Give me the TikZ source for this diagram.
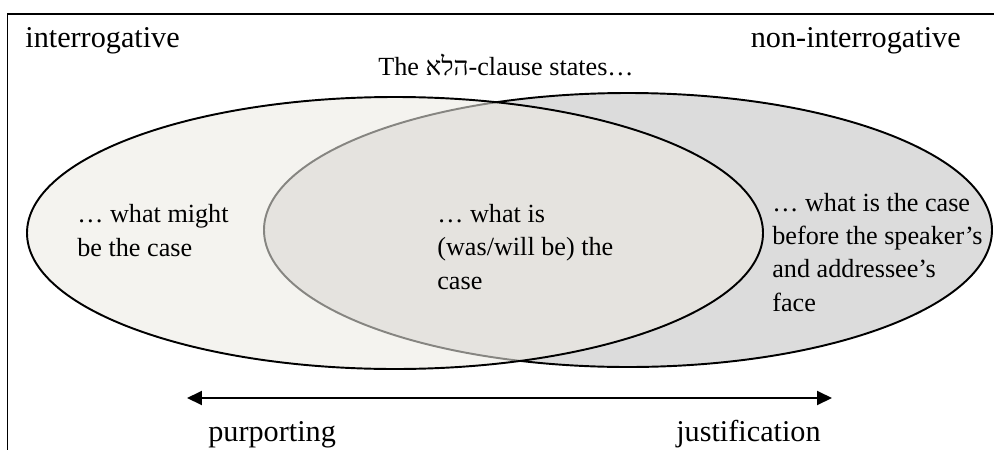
\documentclass[tikz,border=0pt]{standalone}
\usepackage{fontspec}
\setmainfont{Liberation Serif}
\newfontfamily\hebfont[Script=Hebrew]{Liberation Serif}
\TeXXeTstate=1
\usetikzlibrary{arrows.meta}
\definecolor{frame}{HTML}{000000}
\definecolor{leftfill}{RGB}{236,234,227}
\definecolor{rightfill}{HTML}{DCDCDC}
\tikzset{
  base/.style={draw=frame, line width=1.1pt},
  setl/.style={base, fill=leftfill, fill opacity=0.57},
  setr/.style={base, fill=rightfill},
  lab/.style={inner sep=0pt, font=\fontsize{17.2}{19.1}\selectfont, align=left},
  labs/.style={lab, font=\fontsize{14.9}{18.8}\selectfont},
  span/.style={base, {Triangle[length=0.3cm,width=0.28cm]}-{Triangle[length=0.3cm,width=0.28cm]}},
}

\begin{document}
\begin{tikzpicture}[x=0.02cm, y=-0.02cm]
  \useasboundingbox (0,0) rectangle (994,450);
  \coordinate (tr) at (994,14);
  \coordinate (tl) at (7.5,14);
  \coordinate (bl) at (7.5,450);
  \draw[base] (tr) -- (tl) -- (bl);
  % the two sets
  \draw[setr] (628,230) ellipse (364 and 137);
  \draw[setl] (395,233) ellipse (368 and 136);
  % headings
  \node[lab, anchor=base west] (inter) at (25,47) {interrogative};
  \node[lab, anchor=base east] (noninter) at (961,47) {non-interrogative};
  \node[labs, anchor=base] (title) at (506,75) {The {\hebfont\beginR הלא\endR}-clause states…};
  % set contents (base = last line)
  \node[labs, anchor=base west] (might) at (77,256) {… what might\\be the case};
  \node[labs, anchor=base west] (is) at (437,289) {… what is\\(was/will be) the\\case};
  \node[labs, anchor=base west] (face) at (772,311) {… what is the case\\before the speaker’s\\and addressee’s\\face};
  % scale
  \coordinate (pl) at (187,398);
  \coordinate (pr) at (832,398);
  \draw[span] (pl) -- (pr);
  \node[lab, anchor=base west] (purp) at (208,441) {purporting};
  \node[lab, anchor=base east] (just) at (821,441) {justification};
\end{tikzpicture}
\end{document}
